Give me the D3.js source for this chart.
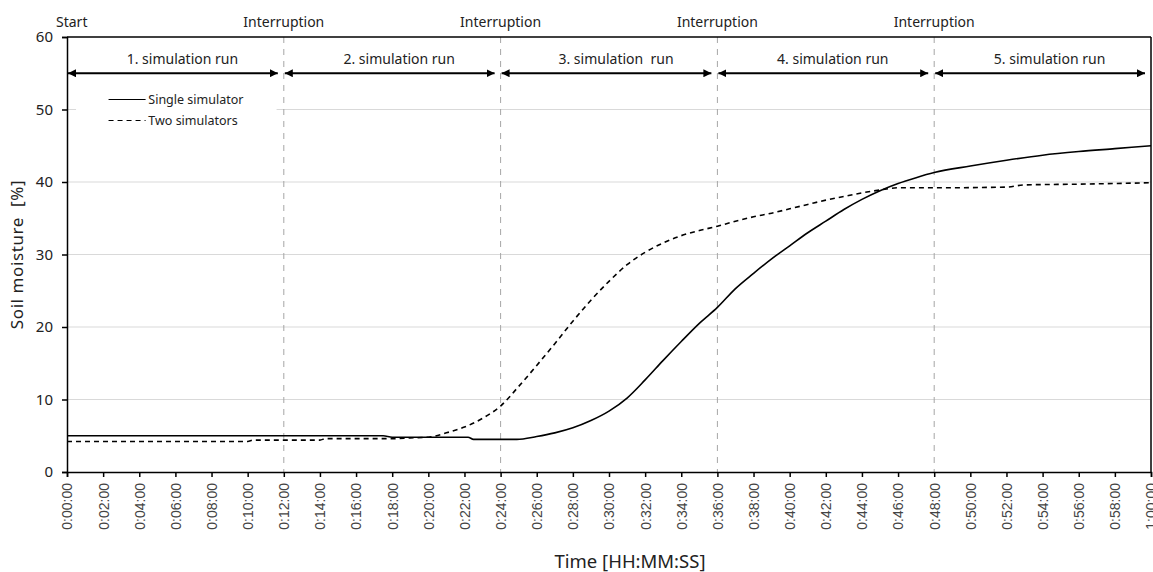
<!DOCTYPE html>
<html lang="en">
  <head>
    <meta charset="utf-8">
    <title>Soil moisture</title>
    <script src="https://d3js.org/d3.v7.min.js"></script>
    <style>
      body { margin: 0; background: #fff; }
      text { font-family: "Noto Sans", sans-serif; fill: #222; }
    </style>
  </head>
  <body>
  <script>

// chart values (time in minutes, moisture in %)
var singleTime = [0, 17.5, 18, 22.2, 22.5, 24.9, 26, 27, 28, 29, 30, 31, 32, 33, 34, 35, 36, 37, 38, 39, 40, 41, 42, 43, 44, 45, 46, 47, 48, 50, 52, 54, 56, 58, 60];
var singleVal  = [5.0, 5.0, 4.8, 4.8, 4.5, 4.5, 4.9, 5.4, 6.1, 7.1, 8.4, 10.2, 12.7, 15.4, 18.0, 20.5, 22.7, 25.3, 27.4, 29.4, 31.2, 33.0, 34.6, 36.2, 37.6, 38.8, 39.8, 40.6, 41.3, 42.2, 43.0, 43.7, 44.2, 44.6, 45.0];

var twoTime = [0, 10, 10.3, 14, 14.3, 18, 19, 20, 21, 22, 23, 24, 25, 26, 27, 28, 29, 30, 31, 32, 33, 34, 35, 36, 37, 38, 39, 40, 41, 42, 43, 44, 45, 46, 48, 52, 53, 56, 60];
var twoVal  = [4.2, 4.2, 4.4, 4.4, 4.6, 4.6, 4.7, 4.8, 5.4, 6.2, 7.4, 9.1, 11.8, 14.7, 17.7, 20.8, 23.7, 26.3, 28.6, 30.3, 31.6, 32.6, 33.3, 33.9, 34.6, 35.2, 35.7, 36.3, 36.9, 37.5, 38.0, 38.5, 38.9, 39.2, 39.2, 39.3, 39.6, 39.7, 39.9];

var runLabels = ["1. simulation run", "2. simulation run", "3. simulation  run", "4. simulation run", "5. simulation run"];
var runStarts = [0, 12, 24, 36, 48];
var runEnds   = [12, 24, 36, 48, 60];
var interruptions = [12, 24, 36, 48];
var seriesNames = ["Single simulator", "Two simulators"];

var yTicks = [0, 10, 20, 30, 40, 50, 60];
var xTicks = d3.range(0, 61, 2);

var w = 1153;
var h = 572;
var margin = {top: 37, right: 2, bottom: 100, left: 67};
var innerWidth = w - margin.left - margin.right;
var innerHeight = h - margin.top - margin.bottom;

var svg = d3.select("body")
  .append("svg")
    .attr("width", w)
    .attr("height", h);

var xScale = d3.scaleLinear().domain([0, 60]).range([0, innerWidth]);
var yScale = d3.scaleLinear().domain([0, 60]).range([innerHeight, 0]);

var g = svg.append("g")
    .attr("transform", `translate(${margin.left}, ${margin.top})`);

// horizontal grid
g.selectAll("line.grid")
  .data(yTicks.filter(d => d > 0 && d < 60))
  .enter().append("line")
    .attr("class", "grid")
    .attr("x1", 0).attr("x2", innerWidth)
    .attr("y1", d => yScale(d)).attr("y2", d => yScale(d))
    .attr("stroke", "#d9d9d9")
    .attr("stroke-width", 1);

// legend background hides part of the 50 grid line
g.append("rect")
    .attr("x", xScale(0.5)).attr("y", yScale(52))
    .attr("width", xScale(11.6) - xScale(0.5))
    .attr("height", yScale(46) - yScale(52))
    .attr("fill", "#fff");

// interruption lines
g.selectAll("line.intr")
  .data(interruptions)
  .enter().append("line")
    .attr("class", "intr")
    .attr("x1", d => xScale(d)).attr("x2", d => xScale(d))
    .attr("y1", 0).attr("y2", innerHeight)
    .attr("stroke", "#a6a6a6")
    .attr("stroke-width", 1)
    .attr("stroke-dasharray", "6,6");

// frame top/right
g.append("line")
    .attr("x1", 0).attr("x2", innerWidth).attr("y1", 0).attr("y2", 0)
    .attr("stroke", "#000").attr("stroke-width", 1.5);
g.append("line")
    .attr("x1", innerWidth).attr("x2", innerWidth).attr("y1", 0).attr("y2", innerHeight)
    .attr("stroke", "#000").attr("stroke-width", 1.5);

// axes
var xAxis = d3.axisBottom(xScale)
    .tickValues(xTicks)
    .tickSize(5)
    .tickFormat(d => Math.floor(d / 60) + ":" + d3.format("02")(d % 60) + ":00");

var yAxis = d3.axisLeft(yScale)
    .tickValues(yTicks)
    .tickSize(5)
    .tickFormat(d3.format("d"));

var gx = g.append("g")
    .attr("transform", `translate(0, ${innerHeight})`)
    .call(xAxis);
gx.select(".domain").attr("stroke", "#000").attr("stroke-width", 1.5);
gx.selectAll(".tick line").attr("stroke", "#000").attr("stroke-width", 1.5);
gx.selectAll(".tick text")
    .attr("transform", "rotate(-90)")
    .attr("x", -11)
    .attr("y", 0)
    .attr("dy", "0.35em")
    .attr("text-anchor", "end")
    .style("font-family", "'Liberation Sans', Arial, sans-serif")
    .style("font-size", "14px")
    .style("fill", "#444");

var gy = g.append("g").call(yAxis);
gy.select(".domain").attr("stroke", "#000").attr("stroke-width", 1.5);
gy.selectAll(".tick line").attr("stroke", "#000").attr("stroke-width", 1.5);
gy.selectAll(".tick text")
    .attr("x", -14)
    .style("font-size", "15px")
    .style("fill", "#222");

// series
var line = d3.line()
    .curve(d3.curveMonotoneX)
    .x(d => xScale(d[0]))
    .y(d => yScale(d[1]));

g.append("path")
    .datum(twoTime.map((t, i) => [t, twoVal[i]]))
    .attr("fill", "none")
    .attr("stroke", "#000")
    .attr("stroke-width", 1.6)
    .attr("stroke-dasharray", "5,4")
    .attr("d", line);

g.append("path")
    .datum(singleTime.map((t, i) => [t, singleVal[i]]))
    .attr("fill", "none")
    .attr("stroke", "#000")
    .attr("stroke-width", 1.6)
    .attr("d", line);

// simulation run arrows
svg.append("defs").html(
  '<marker id="ah" viewBox="0 0 10 10" refX="10" refY="5" markerWidth="4" markerHeight="4" orient="auto-start-reverse">' +
  '<path d="M0,0 L10,5 L0,10 z" fill="#000"/></marker>');

var runs = runLabels.map((l, i) => ({label: l, s: runStarts[i], e: runEnds[i]}));

g.selectAll("line.run")
  .data(runs)
  .enter().append("line")
    .attr("class", "run")
    .attr("x1", d => xScale(d.s) + 1)
    .attr("x2", d => xScale(d.e) - 6)
    .attr("y1", yScale(55)).attr("y2", yScale(55))
    .attr("stroke", "#000")
    .attr("stroke-width", 2)
    .attr("marker-start", "url(#ah)")
    .attr("marker-end", "url(#ah)");

g.selectAll("text.run")
  .data(runs)
  .enter().append("text")
    .attr("class", "run")
    .attr("x", d => xScale((d.s + d.e) / 2) + 7)
    .attr("y", yScale(55) - 9)
    .attr("text-anchor", "middle")
    .style("font-size", "14px")
    .style("white-space", "pre")
    .text(d => d.label);

// top annotations
svg.append("text")
    .attr("x", margin.left - 11)
    .attr("y", 27)
    .style("font-size", "14px")
    .text("Start");

svg.selectAll("text.intr")
  .data(interruptions)
  .enter().append("text")
    .attr("class", "intr")
    .attr("x", d => margin.left + xScale(d))
    .attr("y", 27)
    .attr("text-anchor", "middle")
    .style("font-size", "14px")
    .text("Interruption");

// legend
var legend = g.append("g");
seriesNames.forEach(function(name, i) {
  var ly = yScale(50) - 10 + i * 21;
  legend.append("line")
      .attr("x1", xScale(2.3)).attr("x2", xScale(4.35))
      .attr("y1", ly).attr("y2", ly)
      .attr("stroke", "#000")
      .attr("stroke-width", 1.2)
      .attr("stroke-dasharray", i === 1 ? "5,4" : null);
  legend.append("text")
      .attr("x", xScale(4.5))
      .attr("y", ly)
      .attr("dy", "0.35em")
      .style("font-size", "12.5px")
      .text(name);
});

// axis titles
svg.append("text")
    .attr("transform", `translate(23, ${margin.top + innerHeight / 2}) rotate(-90)`)
    .attr("text-anchor", "middle")
    .style("font-size", "17px")
    .style("letter-spacing", "0.6px")
    .style("white-space", "pre")
    .text("Soil moisture  [%]");

svg.append("text")
    .attr("x", 630)
    .attr("y", 568)
    .attr("text-anchor", "middle")
    .style("font-size", "18.5px")
    .text("Time [HH:MM:SS]");

  </script>
  </body>
</html>
